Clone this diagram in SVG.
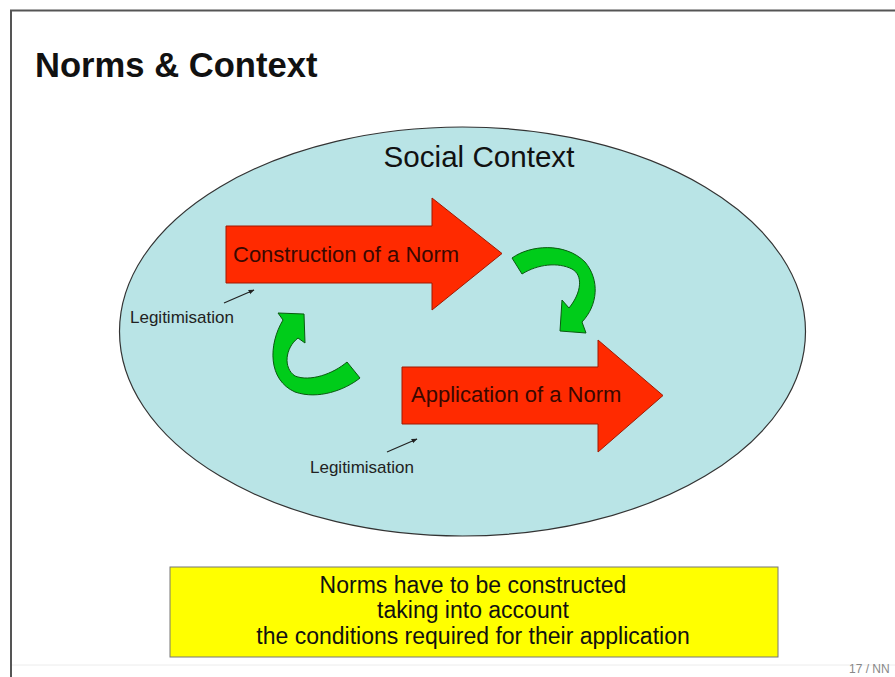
<svg xmlns="http://www.w3.org/2000/svg" width="895" height="677" viewBox="0 0 895 677">
<defs>
<style>
.t{font-family:"Liberation Sans",Arial,sans-serif}
.red{fill:#ff2a00;stroke:#a01800;stroke-width:1}
.grn{fill:#00cc1a;stroke:#0a5a10;stroke-width:1}
.lbl{font-size:22px;fill:#3a0800}
.leg{font-size:17px;fill:#222}
.box{font-size:23px;fill:#111;text-anchor:middle}
.con{stroke:#222;stroke-width:1.2;fill:none;marker-end:url(#ah)}
</style>
<marker id="ah" viewBox="0 0 10 10" refX="9" refY="5" markerWidth="6" markerHeight="6" orient="auto" markerUnits="userSpaceOnUse">
<path d="M0,1 L10,5 L0,9 Z" fill="#222"/>
</marker>
</defs>
<rect width="895" height="677" fill="#ffffff"/>
<g id="frame">
<line x1="10" y1="10.5" x2="895" y2="10.5" stroke="#555" stroke-width="2"/>
<line x1="11" y1="10" x2="11" y2="677" stroke="#555" stroke-width="2"/>
<line x1="12" y1="665" x2="895" y2="665" stroke="#ececec" stroke-width="1"/>
</g>
<text class="t" x="35" y="77" font-size="34.6" font-weight="bold" fill="#111">Norms &amp; Context</text>
<g id="social-context">
<ellipse cx="462.5" cy="331.5" rx="343" ry="204.5" fill="#b9e4e6" stroke="#333" stroke-width="1.2"/>
<text class="t" x="479" y="167" font-size="29.6" fill="#111" text-anchor="middle">Social Context</text>
</g>
<g id="construction">
<path class="red" d="M226,226 L432,226 L432,198 L502,253.5 L432,310 L432,283 L226,283 Z"/>
<text class="t lbl" x="233" y="262">Construction of a Norm</text>
</g>
<g id="application">
<path class="red" d="M402,367 L598,367 L598,340 L663,395.5 L598,452 L598,424 L402,424 Z"/>
<text class="t lbl" x="411" y="402">Application of a Norm</text>
</g>
<g id="cycle-arrow-1">
<path class="grn" d="M512,258 C530,245 565,242 585,262 C600,280 598,305 582,322 L586,333 L560,331 L562,300 L569,308 C582,292 583,275 572,269 C558,262 538,264 522,274 Z"/>
</g>
<g id="cycle-arrow-2">
<path class="grn" d="M283,320 C268,345 268,380 295,392 C318,400 345,390 360,378 L347,362 C333,374 310,382 295,376 C283,368 285,348 298,338 L305,343 L304,314 L278,313 Z"/>
</g>
<g id="legitimisation-1">
<text class="t leg" x="130" y="323">Legitimisation</text>
</g>
<g id="legitimisation-2">
<text class="t leg" x="310" y="473">Legitimisation</text>
</g>
<g id="connectors">
<line class="con" x1="224" y1="303" x2="254" y2="290"/>
<line class="con" x1="387" y1="452" x2="417" y2="439"/>
</g>
<g id="note">
<rect x="170" y="567" width="608" height="90" fill="#ffff00" stroke="#777" stroke-width="1"/>
<text class="t box" x="473" y="593">Norms have to be constructed</text>
<text class="t box" x="473" y="618">taking into account</text>
<text class="t box" x="473" y="644">the conditions required for their application</text>
</g>
<text class="t" x="849" y="673" font-size="12" fill="#888">17 / NN</text>
</svg>
